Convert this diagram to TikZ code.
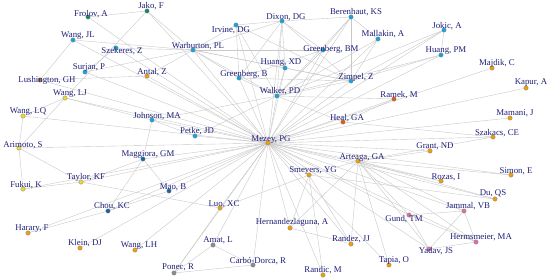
\documentclass[tikz,border=0pt]{standalone}
\usepackage{fontspec}
\setmainfont{Liberation Serif}
\usepackage{xcolor}
\usepackage{tikz}
\usetikzlibrary{positioning}

\definecolor{nametext}{RGB}{30,30,120}
\definecolor{edgegray}{RGB}{200,200,200}
\definecolor{cyanc}{RGB}{20,165,225}
\definecolor{navyc}{RGB}{15,100,170}
\definecolor{greenc}{RGB}{10,140,100}
\definecolor{orangec}{RGB}{245,160,0}
\definecolor{redc}{RGB}{230,90,10}
\definecolor{brownc}{RGB}{200,115,20}
\definecolor{yellowc}{RGB}{240,220,40}
\definecolor{pinkc}{RGB}{225,110,170}
\definecolor{grayc}{RGB}{140,140,140}

\pgfdeclarelayer{bg}
\pgfsetlayers{bg,main}

\begin{document}
\begin{tikzpicture}[
  x=1pt,y=-1pt,
  dot/.style={circle,draw=black!50,line width=0.3pt,inner sep=0pt,
              minimum size=4.4pt},
  lbl/.style={inner sep=0pt,text=nametext,
              font=\fontsize{8.8}{10}\selectfont},
  edge/.style={draw=edgegray,line width=0.4pt}
]
\useasboundingbox (0,0) rectangle (550,280);

% authors
\node[dot,fill=greenc] (frolov) at (88,17) {};
\node[dot,fill=greenc] (jako) at (147,11) {};
\node[dot,fill=cyanc] (wangjl) at (73,40) {};
\node[dot,fill=cyanc] (szekeres) at (116,48) {};
\node[dot,fill=cyanc] (warburton) at (193,50) {};
\node[dot,fill=cyanc] (surjan) at (85,72) {};
\node[dot,fill=orangec] (antal) at (147,76) {};
\node[dot,fill=brownc] (lushington) at (40,80) {};
\node[dot,fill=yellowc] (wanglj) at (65,98) {};
\node[dot,fill=yellowc] (wanglq) at (23,116) {};
\node[dot,fill=cyanc] (johnson) at (152,120) {};
\node[dot,fill=cyanc] (petke) at (195,136) {};
\node[dot,fill=cyanc] (irvine) at (236,25) {};
\node[dot,fill=cyanc] (dixon) at (282,21) {};
\node[dot,fill=cyanc] (berenhaut) at (351,17) {};
\node[dot,fill=cyanc] (greenbergbm) at (323,50) {};
\node[dot,fill=cyanc] (huangxd) at (285,68) {};
\node[dot,fill=cyanc] (greenbergb) at (239,78) {};
\node[dot,fill=cyanc] (zimpel) at (351,81) {};
\node[dot,fill=cyanc] (walker) at (277,96) {};
\node[dot,fill=redc] (heal) at (343,122) {};
\node[dot,fill=orangec] (mezey) at (268,143) {};
\node[dot,fill=cyanc] (jokic) at (444,30) {};
\node[dot,fill=cyanc] (mallakin) at (378,39) {};
\node[dot,fill=cyanc] (huangpm) at (441,55) {};
\node[dot,fill=orangec] (majdik) at (492,68) {};
\node[dot,fill=orangec] (kapur) at (526,88) {};
\node[dot,fill=redc] (ramek) at (394,99) {};
\node[dot,fill=orangec] (mamani) at (510,118) {};
\node[dot,fill=orangec] (szakacs) at (493,137) {};
\node[dot,fill=orangec] (grant) at (430,151) {};
\node[dot,fill=orangec] (arteaga) at (358,161) {};
\node[dot,fill=orangec] (simon) at (511,175) {};
\node[dot,fill=orangec] (rozas) at (441,181) {};
\node[dot,fill=orangec] (du) at (495,199) {};
\node[dot,fill=pinkc] (jammal) at (464,211) {};
\node[dot,fill=pinkc] (gund) at (409,215) {};
\node[dot,fill=pinkc] (hermsmeier) at (476,242) {};
\node[dot,fill=pinkc] (yadav) at (429,249) {};
\node[dot,fill=orangec] (tapia) at (389,265) {};
\node[dot,fill=orangec] (smeyers) at (309,175) {};
\node[dot,fill=orangec] (luo) at (220,208) {};
\node[dot,fill=orangec] (hernandez) at (290,228) {};
\node[dot,fill=orangec] (randez) at (351,244) {};
\node[dot,fill=grayc] (amat) at (213,245) {};
\node[dot,fill=grayc] (carbo) at (253,265) {};
\node[dot,fill=orangec] (randic) at (323,275) {};
\node[dot,fill=grayc] (ponec) at (174,273) {};
\node[dot,fill=yellowc] (arimoto) at (19,148) {};
\node[dot,fill=navyc] (maggiora) at (143,159) {};
\node[dot,fill=yellowc] (fukui) at (23,189) {};
\node[dot,fill=yellowc] (taylor) at (81,182) {};
\node[dot,fill=navyc] (mao) at (169,191) {};
\node[dot,fill=navyc] (chou) at (108,211) {};
\node[dot,fill=orangec] (harary) at (28,233) {};
\node[dot,fill=orangec] (klein) at (80,248) {};
\node[dot,fill=orangec] (wanglh) at (135,250) {};

% names
\node[lbl] (frolov-t) at (91,14) {Frolov, A};
\node[lbl] (jako-t) at (151,6) {Jako, F};
\node[lbl] (wangjl-t) at (78,36) {Wang, JL};
\node[lbl] (szekeres-t) at (122,51) {Szekeres, Z};
\node[lbl] (warburton-t) at (198,46) {Warburton, PL};
\node[lbl] (surjan-t) at (89,68) {Surjan, P};
\node[lbl] (antal-t) at (152,72) {Antal, Z};
\node[lbl] (lushington-t) at (47,80) {Lushington, GH};
\node[lbl] (wanglj-t) at (70,94) {Wang, LJ};
\node[lbl] (wanglq-t) at (28,112) {Wang, LQ};
\node[lbl] (johnson-t) at (157,116) {Johnson, MA};
\node[lbl] (petke-t) at (197,131) {Petke, JD};
\node[lbl] (irvine-t) at (231,30) {Irvine, DG};
\node[lbl] (dixon-t) at (286,17) {Dixon, DG};
\node[lbl] (berenhaut-t) at (356,12) {Berenhaut, KS};
\node[lbl] (greenbergbm-t) at (331,49) {Greenberg, BM};
\node[lbl] (huangxd-t) at (281,63) {Huang, XD};
\node[lbl] (greenbergb-t) at (244,74) {Greenberg, B};
\node[lbl] (zimpel-t) at (356,77) {Zimpel, Z};
\node[lbl] (walker-t) at (280,91) {Walker, PD};
\node[lbl] (heal-t) at (347,118) {Heal, GA};
\node[lbl] (mezey-t) at (271,140) {Mezey, PG};
\node[lbl] (jokic-t) at (447,26) {Jokic, A};
\node[lbl] (mallakin-t) at (383,34) {Mallakin, A};
\node[lbl] (huangpm-t) at (446,51) {Huang, PM};
\node[lbl] (majdik-t) at (497,63) {Majdik, C};
\node[lbl] (kapur-t) at (531,83) {Kapur, A};
\node[lbl] (ramek-t) at (399,95) {Ramek, M};
\node[lbl] (mamani-t) at (515,113) {Mamani, J};
\node[lbl] (szakacs-t) at (497,133) {Szakacs, CE};
\node[lbl] (grant-t) at (435,146) {Grant, ND};
\node[lbl] (arteaga-t) at (362,158) {Arteaga, GA};
\node[lbl] (simon-t) at (516,171) {Simon, E};
\node[lbl] (rozas-t) at (446,177) {Rozas, I};
\node[lbl] (du-t) at (493,193) {Du, QS};
\node[lbl] (jammal-t) at (468,206) {Jammal, VB};
\node[lbl] (gund-t) at (404,219) {Gund, TM};
\node[lbl] (hermsmeier-t) at (481,237) {Hermsmeier, MA};
\node[lbl] (yadav-t) at (436,251) {Yadav, JS};
\node[lbl] (tapia-t) at (394,261) {Tapia, O};
\node[lbl] (smeyers-t) at (313,171) {Smeyers, YG};
\node[lbl] (luo-t) at (224,204) {Luo, XC};
\node[lbl] (hernandez-t) at (292,222) {Hernandezlaguna, A};
\node[lbl] (randez-t) at (351,239) {Randez, JJ};
\node[lbl] (amat-t) at (218,240) {Amat, L};
\node[lbl] (carbo-t) at (258,261) {Carbó-Dorca, R};
\node[lbl] (randic-t) at (323,270) {Randic, M};
\node[lbl] (ponec-t) at (178,267) {Ponec, R};
\node[lbl] (arimoto-t) at (23,145) {Arimoto, S};
\node[lbl] (maggiora-t) at (148,155) {Maggiora, GM};
\node[lbl] (fukui-t) at (26,185) {Fukui, K};
\node[lbl] (taylor-t) at (86,177) {Taylor, KF};
\node[lbl] (mao-t) at (173,187) {Mao, B};
\node[lbl] (chou-t) at (112,206) {Chou, KC};
\node[lbl] (harary-t) at (32,229) {Harary, F};
\node[lbl] (klein-t) at (85,243) {Klein, DJ};
\node[lbl] (wanglh-t) at (139,246) {Wang, LH};

% co-author links
\begin{pgfonlayer}{bg}
\foreach \a in {frolov,jako,wangjl,szekeres,warburton,surjan,antal,
  lushington,wanglj,wanglq,johnson,petke,irvine,dixon,berenhaut,
  greenbergbm,huangxd,greenbergb,zimpel,walker,heal,jokic,mallakin,
  huangpm,majdik,kapur,ramek,mamani,szakacs,grant,arteaga,simon,rozas,
  du,jammal,gund,hermsmeier,yadav,tapia,smeyers,luo,hernandez,randez,
  amat,carbo,randic,ponec,arimoto,maggiora,fukui,taylor,mao,chou,
  harary,klein,wanglh}
  \draw[edge] (mezey) -- (\a);
\foreach \a/\b in {frolov/jako,jako/warburton,jako/wanglj,
  wangjl/warburton,szekeres/warburton,surjan/warburton,antal/warburton,
  wangjl/lushington,lushington/antal,szekeres/surjan,wanglj/wanglq,
  wanglj/arimoto,wanglj/johnson,wanglq/arimoto,arimoto/fukui,
  arimoto/taylor,fukui/taylor,taylor/luo,taylor/maggiora,
  johnson/maggiora,maggiora/mao,maggiora/chou,chou/mao,harary/chou,
  johnson/petke,petke/walker,johnson/walker,
  warburton/irvine,warburton/dixon,warburton/greenbergbm,
  warburton/huangxd,warburton/greenbergb,warburton/walker,
  warburton/zimpel,dixon/berenhaut,dixon/irvine,dixon/walker,
  dixon/greenbergbm,dixon/zimpel,dixon/huangxd,dixon/greenbergb,
  irvine/walker,irvine/greenbergb,irvine/zimpel,berenhaut/zimpel,
  berenhaut/mallakin,berenhaut/greenbergbm,berenhaut/walker,
  mallakin/zimpel,mallakin/walker,jokic/huangpm,jokic/zimpel,
  jokic/walker,huangpm/zimpel,huangpm/walker,greenbergbm/walker,
  greenbergbm/greenbergb,huangxd/walker,huangxd/zimpel,
  greenbergb/zimpel,greenbergb/walker,zimpel/walker,
  ramek/heal,ramek/walker,heal/walker,heal/szakacs,
  arteaga/grant,arteaga/rozas,arteaga/du,arteaga/simon,arteaga/jammal,
  arteaga/gund,arteaga/yadav,arteaga/hermsmeier,arteaga/tapia,
  arteaga/randez,arteaga/hernandez,arteaga/smeyers,arteaga/szakacs,
  smeyers/du,gund/jammal,jammal/yadav,jammal/hermsmeier,
  yadav/hermsmeier,gund/yadav,gund/hermsmeier,smeyers/randez,
  smeyers/hernandez,smeyers/luo,smeyers/randic,hernandez/randez,
  luo/ponec,amat/ponec,amat/carbo,ponec/carbo}
  \draw[edge] (\a) -- (\b);
\end{pgfonlayer}
\end{tikzpicture}
\end{document}
